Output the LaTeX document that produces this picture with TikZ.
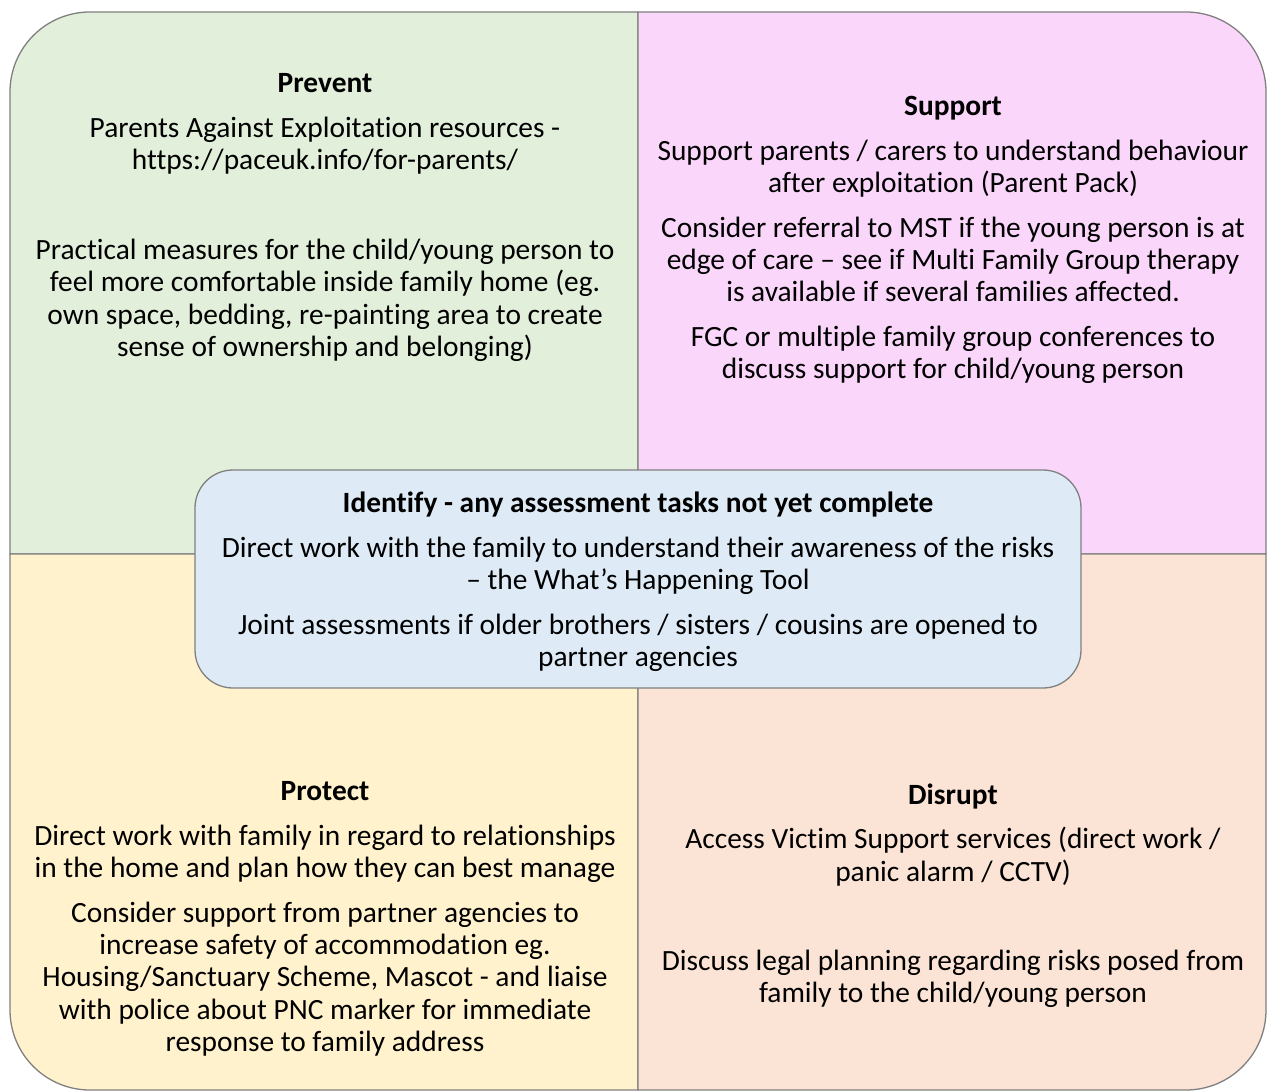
\documentclass[tikz,border=0pt]{standalone}
\usepackage{fontspec}
\setmainfont[Ligatures=NoCommon]{Carlito}
\definecolor{qgreen}{HTML}{E2EFDA}
\definecolor{qpink}{HTML}{FBD6FB}
\definecolor{qyellow}{HTML}{FFF2CC}
\definecolor{qpeach}{HTML}{FBE4D5}
\definecolor{qblue}{HTML}{DEEBF7}
\definecolor{qline}{HTML}{808080}
\begin{document}
\begin{tikzpicture}[x=1pt,y=-1pt,
  quad/.style={draw=qline, line width=1.3pt},
  txt/.style={inner sep=0pt, anchor=base, font=\fontsize{29.4}{32}\selectfont},
  hd/.style={txt, font=\fontsize{29.4}{32}\selectfont\bfseries},
  cbox/.style={draw=qline, line width=1.3pt, fill=qblue, rounded corners=38pt, inner sep=0pt}]
\useasboundingbox (0,0) rectangle (1267,1091);
\def\R{80}
% quadrants
\draw[quad, fill=qgreen] (10,554) -- (10,12+\R) arc[start angle=180, end angle=270, radius=\R] -- (638,12) -- (638,554) -- cycle;
\draw[quad, fill=qpink] (638,554) -- (638,12) -- (1266-\R,12) arc[start angle=270, end angle=360, radius=\R] -- (1266,554) -- cycle;
\draw[quad, fill=qyellow] (10,554) -- (638,554) -- (638,1090) -- (10+\R,1090) arc[start angle=90, end angle=180, radius=\R] -- cycle;
\draw[quad, fill=qpeach] (638,554) -- (1266,554) -- (1266,1090-\R) arc[start angle=0, end angle=90, radius=\R] -- (638,1090) -- cycle;
% Prevent
\node[hd] (pvh) at (325,93) {Prevent};
\node[txt] (pv1) at (325,138) {Parents Against Exploitation resources -};
\node[txt] (pv2) at (325,170) {https://paceuk.info/for-parents/};
\node[txt] (pv3) at (325,260) {Practical measures for the child/young person to};
\node[txt] (pv4) at (325,292) {feel more comfortable inside family home (eg.};
\node[txt] (pv5) at (325,325) {own space, bedding, re-painting area to create};
\node[txt] (pv6) at (325,357) {sense of ownership and belonging)};
% Support
\node[hd] (suh) at (953,116) {Support};
\node[txt] (su1) at (953,161) {Support parents / carers to understand behaviour};
\node[txt] (su2) at (953,193) {after exploitation (Parent Pack)};
\node[txt] (su3) at (953,238) {Consider referral to MST if the young person is at};
\node[txt] (su4) at (953,270) {edge of care – see if Multi Family Group therapy};
\node[txt] (su5) at (953,302) {is available if several families affected.};
\node[txt] (su6) at (953,347) {FGC or multiple family group conferences to};
\node[txt] (su7) at (953,379) {discuss support for child/young person};
% Protect
\node[hd] (prh) at (325,800) {Protect};
\node[txt] (pr1) at (325,845) {Direct work with family in regard to relationships};
\node[txt] (pr2) at (325,877) {in the home and plan how they can best manage};
\node[txt] (pr3) at (325,922) {Consider support from partner agencies to};
\node[txt] (pr4) at (325,954) {increase safety of accommodation eg.};
\node[txt] (pr5) at (325,986) {Housing/Sanctuary Scheme, Mascot - and liaise};
\node[txt] (pr6) at (325,1019) {with police about PNC marker for immediate};
\node[txt] (pr7) at (325,1051) {response to family address};
% Disrupt
\node[hd] (dih) at (953,804) {Disrupt};
\node[txt] (di1) at (953,848) {Access Victim Support services (direct work /};
\node[txt] (di2) at (953,881) {panic alarm / CCTV)};
\node[txt] (di3) at (953,970) {Discuss legal planning regarding risks posed from};
\node[txt] (di4) at (953,1002) {family to the child/young person};
% Identify
\node[cbox, minimum width=886pt, minimum height=218pt] (idbox) at (638,579) {};
\node[hd] (idh) at (638,512) {Identify - any assessment tasks not yet complete};
\node[txt] (id1) at (638,557) {Direct work with the family to understand their awareness of the risks};
\node[txt] (id2) at (638,589) {– the What’s Happening Tool};
\node[txt] (id3) at (638,634) {Joint assessments if older brothers / sisters / cousins are opened to};
\node[txt] (id4) at (638,666) {partner agencies};
\end{tikzpicture}
\end{document}
